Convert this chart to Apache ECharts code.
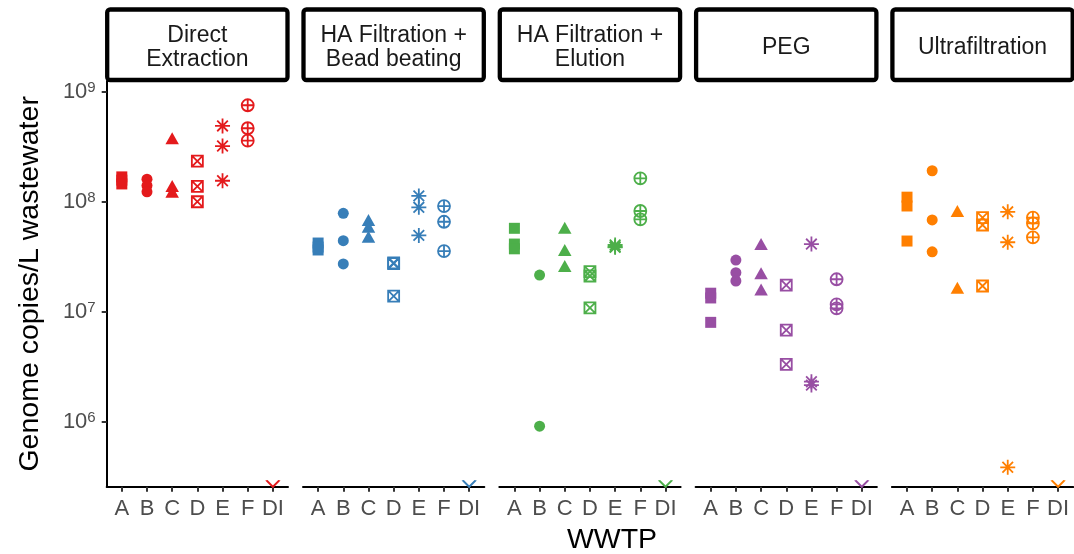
<!DOCTYPE html>
<html><head><meta charset="utf-8">
<script src="https://cdn.jsdelivr.net/npm/echarts@6/dist/echarts.min.js"></script>
<style>html,body{margin:0;padding:0;background:#fff}#chart{width:1074px;height:554px}</style>
</head><body><div id="chart"></div>
<script>
// ---------------- data ----------------
const wwtp = ['A', 'B', 'C', 'D', 'E', 'F', 'DI'];
const methods = ['Direct\nExtraction', 'HA Filtration +\nBead beating', 'HA Filtration +\nElution', 'PEG', 'Ultrafiltration'];
const yTicks = [1e6, 1e7, 1e8, 1e9];
const yMin = 2.6e5;
const yMax = 1.245e9;

// one inner list per WWTP (A..F, DI); DI sits at the plot floor
const directExtraction = [
  [1.68e8, 1.57e8, 1.45e8],
  [1.60e8, 1.40e8, 1.23e8],
  [3.76e8, 1.39e8, 1.23e8],
  [2.34e8, 1.38e8, 1.00e8],
  [4.87e8, 3.20e8, 1.55e8],
  [7.50e8, 4.64e8, 3.58e8],
  [2.6e5]
];
const haBeadBeating = [
  [4.22e7, 3.88e7, 3.65e7],
  [7.85e7, 4.43e7, 2.73e7],
  [6.83e7, 5.93e7, 4.81e7],
  [2.79e7, 2.75e7, 1.39e7],
  [1.13e8, 8.90e7, 4.95e7],
  [9.14e7, 6.58e7, 3.57e7],
  [2.6e5]
];
const haElution = [
  [5.74e7, 4.13e7, 3.74e7],
  [2.16e7, 9.2e5],
  [5.80e7, 3.65e7, 2.61e7],
  [2.32e7, 2.12e7, 1.09e7],
  [4.05e7, 3.90e7, 3.86e7],
  [1.63e8, 8.24e7, 6.92e7],
  [2.6e5]
];
const peg = [
  [1.48e7, 1.34e7, 8.05e6],
  [2.96e7, 2.27e7, 1.91e7],
  [4.13e7, 2.24e7, 1.60e7],
  [1.75e7, 6.85e6, 3.35e6],
  [4.13e7, 2.33e6, 2.17e6],
  [1.98e7, 1.17e7, 1.08e7],
  [2.6e5]
];
const ultrafiltration = [
  [1.10e8, 9.15e7, 4.40e7],
  [1.91e8, 6.83e7, 3.51e7],
  [8.24e7, 1.66e7],
  [7.16e7, 6.15e7, 1.72e7],
  [8.10e7, 4.29e7, 3.9e5],
  [7.16e7, 6.37e7, 4.75e7],
  [2.6e5]
];

// ---------------- styling / layout ----------------
const panels = [directExtraction, haBeadBeating, haElution, peg, ultrafiltration];
const colors = ['#E41A1C', '#377EB8', '#4DAF4A', '#984EA3', '#FF7F00'];
const FONT = '"Liberation Sans", Arial, Helvetica, sans-serif';
const P_LEFT = 106.7, P_STEP = 196.3, P_W = 181.3, P_TOP = 81, P_BOT = 486.7;

const shapes = [
  { symbol: 'rect', size: 11, filled: true },
  { symbol: 'circle', size: 11, filled: true },
  { symbol: 'triangle', size: [13.5, 12], filled: true },
  { symbol: 'path://M0,0H10V10H0Z M0,0L10,10 M10,0L0,10', size: 11, filled: false },
  { symbol: 'path://M5,0V10 M0,5H10 M1.46,1.46L8.54,8.54 M8.54,1.46L1.46,8.54', size: 15, filled: false },
  { symbol: 'path://M0,5A5,5 0 1,1 10,5A5,5 0 1,1 0,5Z M5,0V10 M0,5H10', size: 12, filled: false },
  { symbol: 'path://M0,0L5,5L10,0', size: [13, 6.5], filled: false, offset: [0, -3.2] }
];

const grids = [], xAxes = [], yAxes = [], series = [], graphics = [];
const tickIdx = wwtp.map((_, k) => k);

panels.forEach((data, i) => {
  const left = P_LEFT + i * P_STEP;
  grids.push({ left: left, top: P_TOP, width: P_W, height: P_BOT - P_TOP });
  xAxes.push({
    gridIndex: i, type: 'value', min: -0.6, max: 6.6,
    splitLine: { show: false },
    axisLine: { show: true, onZero: false, lineStyle: { color: '#000', width: 2 } },
    axisTick: { show: true, length: 5, lineStyle: { color: '#333', width: 2 }, customValues: tickIdx },
    axisLabel: { customValues: tickIdx, formatter: v => wwtp[Math.round(v)], fontSize: 22, color: '#4d4d4d', margin: 11, fontFamily: FONT }
  });
  const first = i === 0;
  yAxes.push({
    gridIndex: i, type: 'log', logBase: 10, min: yMin, max: yMax,
    splitLine: { show: false },
    axisLine: { show: first, onZero: false, lineStyle: { color: '#000', width: 2 } },
    axisTick: { show: first, length: 5, lineStyle: { color: '#333', width: 2 }, customValues: yTicks },
    axisLabel: {
      show: first, customValues: yTicks, margin: 11,
      formatter: v => '{b|10}{s|' + Math.round(Math.log10(v)) + '}',
      rich: {
        b: { fontSize: 22, color: '#4d4d4d', fontFamily: FONT },
        s: { fontSize: 15, color: '#4d4d4d', fontFamily: FONT, padding: [0, 0, 8, 0] }
      }
    },
    name: first ? 'Genome copies/L wastewater' : '',
    nameLocation: 'middle', nameGap: 62,
    nameTextStyle: { fontSize: 28.5, color: '#000', fontFamily: FONT }
  });
  wwtp.forEach((w, k) => {
    const sh = shapes[k];
    series.push({
      type: 'scatter', xAxisIndex: i, yAxisIndex: i, silent: true, animation: false,
      clip: k !== 6,
      symbol: sh.symbol, symbolSize: sh.size, symbolOffset: sh.offset || [0, 0],
      itemStyle: sh.filled ? { color: colors[i], opacity: 1 }
        : { color: 'rgba(0,0,0,0)', borderColor: colors[i], borderWidth: 1.8, opacity: 1 },
      emphasis: { disabled: true },
      data: data[k].map(v => [k, v])
    });
  });
  // facet strip
  graphics.push({
    type: 'rect', silent: true,
    shape: { x: left + 0.5, y: 9.5, width: P_W - 1, height: 70.5, r: 3 },
    style: { fill: '#fff', stroke: '#000', lineWidth: 4.3 }
  });
  graphics.push({
    type: 'text', silent: true, x: left + P_W / 2, y: 47.5,
    style: { text: methods[i], fill: '#1a1a1a', font: '23px ' + FONT, align: 'center', verticalAlign: 'middle', lineHeight: 24 }
  });
});

graphics.push({
  type: 'text', silent: true, x: 612, y: 540,
  style: { text: 'WWTP', fill: '#000', font: '28.5px ' + FONT, align: 'center', verticalAlign: 'middle' }
});

const chart = echarts.init(document.getElementById('chart'), null, { renderer: 'canvas' });
chart.setOption({
  animation: false,
  backgroundColor: '#fff',
  textStyle: { fontFamily: FONT },
  grid: grids, xAxis: xAxes, yAxis: yAxes, series: series,
  graphic: graphics
});
</script></body></html>
